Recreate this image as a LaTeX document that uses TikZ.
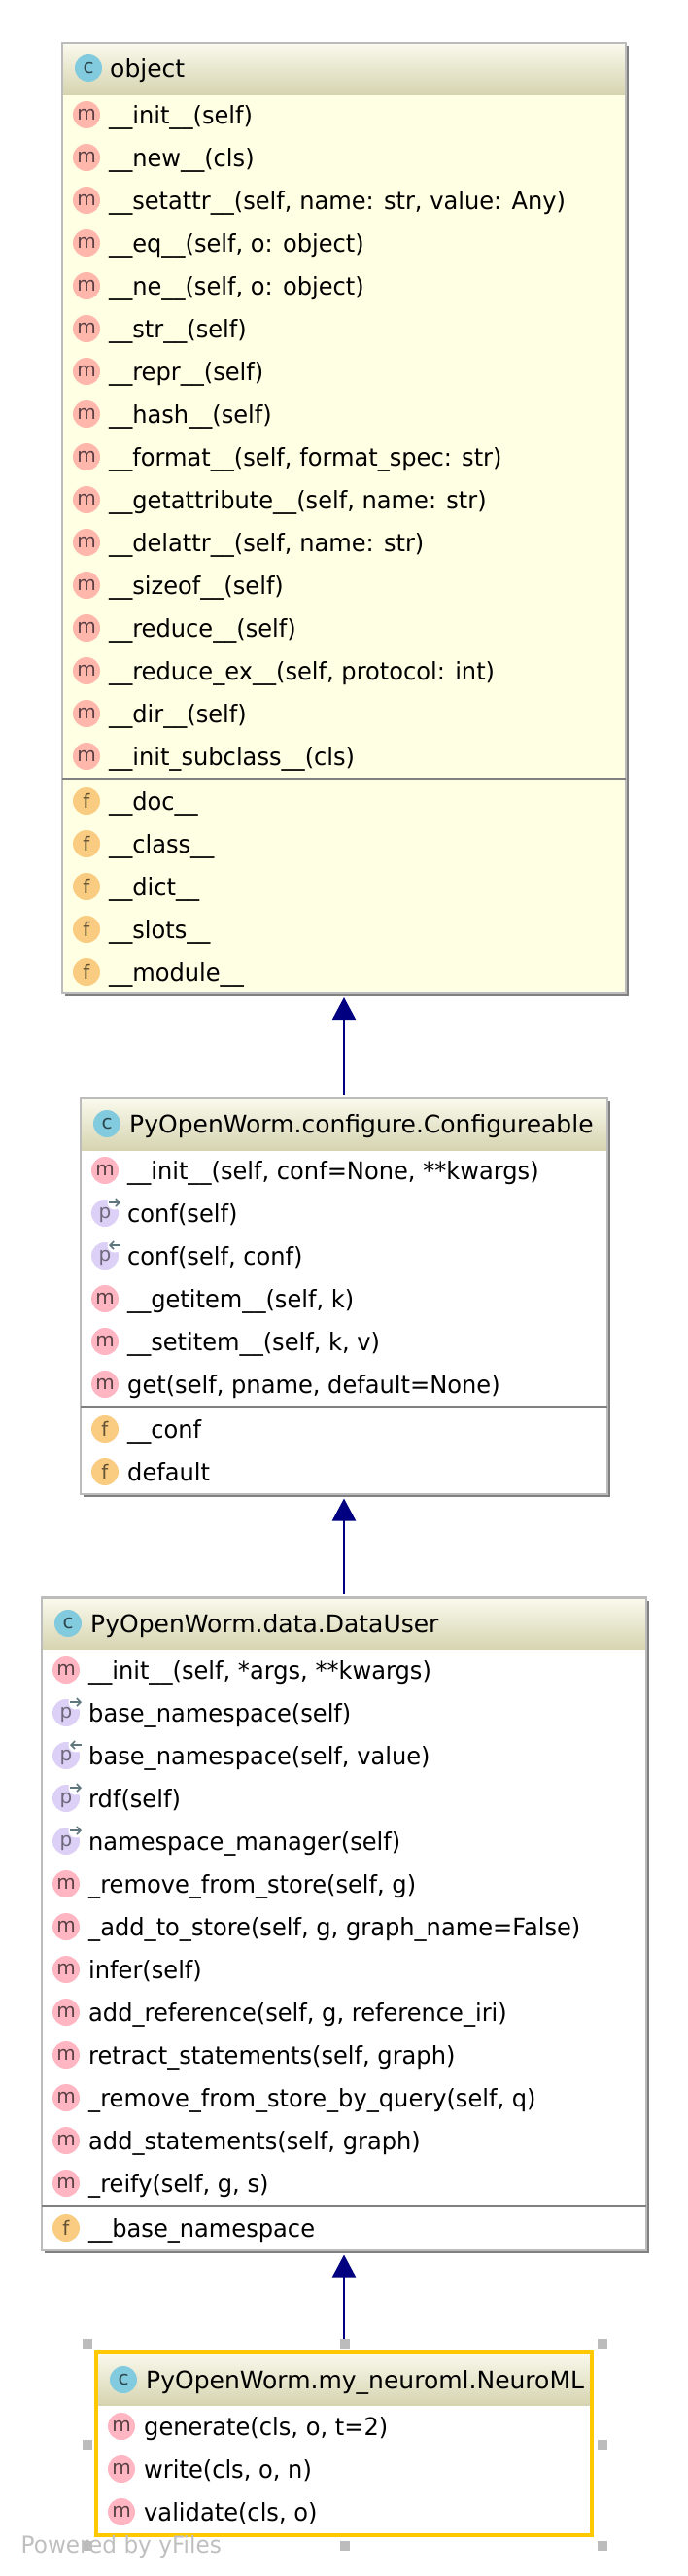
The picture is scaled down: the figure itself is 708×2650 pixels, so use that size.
\documentclass[tikz,border=0pt]{standalone}
\usepackage{fontspec}
\setmainfont{DejaVu Sans}
\newfontfamily\rowfont[FakeStretch=0.965]{DejaVu Sans}
\usetikzlibrary{arrows.meta,shadows}
\definecolor{framegray}{RGB}{188,188,188}
\definecolor{sepgray}{RGB}{128,128,128}
\definecolor{paleyellow}{RGB}{255,255,228}
\definecolor{headtop}{RGB}{250,250,238}
\definecolor{headbottom}{RGB}{214,212,176}
\definecolor{iconcblue}{RGB}{130,203,222}
\definecolor{iconmpink}{RGB}{255,182,194}
\definecolor{iconfgold}{RGB}{250,204,130}
\definecolor{iconpviolet}{RGB}{220,208,246}
\definecolor{navyarrow}{RGB}{0,0,128}
\definecolor{selyellow}{RGB}{255,200,0}
\tikzset{
  plainbox/.style={rectangle,fill=white,outer sep=0pt,inner sep=0pt},
  classbox/.style={plainbox,
    general shadow={fill=sepgray,shadow xshift=3pt,shadow yshift=-3pt}},
  headbar/.style={rectangle,anchor=north,outer sep=0pt,inner sep=0pt,minimum height=53pt,
    top color=headtop,bottom color=headbottom},
  inherit/.style={draw=navyarrow,line width=2pt,-{Triangle[length=23pt,width=24pt]},
    shorten <=4pt,shorten >=4.5pt},
  icon/.style={circle,minimum size=28pt,inner sep=0pt,text height=11pt,text depth=0pt,
    font=\fontsize{20}{24}\selectfont},
  iconc/.style={icon,fill=iconcblue,text=black!65!iconcblue},
  iconm/.style={icon,fill=iconmpink,text=black!65!iconmpink},
  iconf/.style={icon,fill=iconfgold,text=black!60!iconfgold,text height=15pt},
  iconp/.style={icon,fill=iconpviolet,text=black!50!iconpviolet},
  titletext/.style={anchor=base west,inner sep=0pt,font=\fontsize{25}{30}\selectfont},
  rowtext/.style={anchor=base west,inner sep=0pt,font=\rowfont\fontsize{25}{30}\selectfont},
  selhandle/.style={rectangle,fill=framegray,minimum size=10pt,inner sep=0pt},
  accessor/.style={draw=black!45!iconcblue!60!gray,line width=1.6pt,-{Straight Barb[length=4pt,width=8pt]}}
}
% one member line of a class box: name, left edge, y, kind, text
\newcommand{\memberrow}[5]{
  \node[icon#4] (#1i) at ({#2+25},#3) {#4};
  \node[rowtext] (#1t) at ({#2+48},{#3+9}) {#5};
}
% box with header: name, centre x, width, top, height, fill
\newcommand{\classframe}[6]{
  \node[classbox,minimum width=#3pt,minimum height=#5pt,fill=#6] (#1) at (#2,{#4+#5/2}) {};
  \node[headbar,minimum width=#3pt] (#1head) at (#1.north) {};
  \draw[framegray,line width=2.4pt] (#1.north west) rectangle (#1.south east);
}
\begin{document}
\begin{tikzpicture}[x=1pt,y=-1pt]
  \useasboundingbox (0,0) rectangle (708,2650);

  % object
  \classframe{object}{354}{580}{44}{977.5}{paleyellow}
  \node[iconc] (objectc) at (91,70) {c};
  \node[titletext] (objectname) at (113,79) {object};
  \begin{scope}[iconm/.append style={fill=iconmpink!85!orange!90!paleyellow}]
  \foreach \i/\txt in {0/{\_\_init\_\_(self)},1/{\_\_new\_\_(cls)},
      2/{\_\_setattr\_\_(self, name: str, value: Any)},3/{\_\_eq\_\_(self, o: object)},
      4/{\_\_ne\_\_(self, o: object)},5/{\_\_str\_\_(self)},6/{\_\_repr\_\_(self)},
      7/{\_\_hash\_\_(self)},8/{\_\_format\_\_(self, format\_spec: str)},
      9/{\_\_getattribute\_\_(self, name: str)},10/{\_\_delattr\_\_(self, name: str)},
      11/{\_\_sizeof\_\_(self)},12/{\_\_reduce\_\_(self)},
      13/{\_\_reduce\_ex\_\_(self, protocol: int)},14/{\_\_dir\_\_(self)},
      15/{\_\_init\_subclass\_\_(cls)}} {
    \pgfmathsetmacro\rowy{118+44*\i}
    \memberrow{objm\i}{64}{\rowy}{m}{\txt}
  }
  \end{scope}
  \coordinate (objectsep) at (64,801);
  \draw[sepgray,line width=2pt] (objectsep) -- (objectsep -| object.east);
  \foreach \i/\txt in {0/{\_\_doc\_\_},1/{\_\_class\_\_},2/{\_\_dict\_\_},
      3/{\_\_slots\_\_},4/{\_\_module\_\_}} {
    \pgfmathsetmacro\rowy{824+44*\i}
    \memberrow{objf\i}{64}{\rowy}{f}{\txt}
  }

  % Configureable
  \classframe{config}{354}{542}{1130}{407}{white}
  \node[iconc] (configc) at (110,1156) {c};
  \node[titletext] (configname) at (133,1165) {PyOpenWorm.configure.Configureable};
  \memberrow{confm0}{83}{1204}{m}{\_\_init\_\_(self, conf=None, **kwargs)}
  \memberrow{confp1}{83}{1248}{p}{conf(self)}
  \memberrow{confp2}{83}{1292}{p}{conf(self, conf)}
  \memberrow{confm3}{83}{1336}{m}{\_\_getitem\_\_(self, k)}
  \memberrow{confm4}{83}{1380}{m}{\_\_setitem\_\_(self, k, v)}
  \memberrow{confm5}{83}{1424}{m}{get(self, pname, default=None)}
  \coordinate (configsep) at (83,1447);
  \draw[sepgray,line width=2pt] (configsep) -- (configsep -| config.east);
  \memberrow{conff0}{83}{1470}{f}{\_\_conf}
  \memberrow{conff1}{83}{1514}{f}{default}

  % DataUser
  \classframe{datauser}{354}{622}{1643.5}{671.5}{white}
  \node[iconc] (datauserc) at (70,1670) {c};
  \node[titletext] (datausername) at (93,1679) {PyOpenWorm.data.DataUser};
  \foreach \i/\k/\txt in {0/m/{\_\_init\_\_(self, *args, **kwargs)},
      1/p/{base\_namespace(self)},2/p/{base\_namespace(self, value)},3/p/{rdf(self)},
      4/p/{namespace\_manager(self)},5/m/{\_remove\_from\_store(self, g)},
      6/m/{\_add\_to\_store(self, g, graph\_name=False)},7/m/{infer(self)},
      8/m/{add\_reference(self, g, reference\_iri)},9/m/{retract\_statements(self, graph)},
      10/m/{\_remove\_from\_store\_by\_query(self, q)},11/m/{add\_statements(self, graph)},
      12/m/{\_reify(self, g, s)}} {
    \pgfmathsetmacro\rowy{1718+44*\i}
    \memberrow{datam\i}{43}{\rowy}{\k}{\txt}
  }
  \coordinate (datausersep) at (43,2269);
  \draw[sepgray,line width=2pt] (datausersep) -- (datausersep -| datauser.east);
  \memberrow{dataf0}{43}{2292}{f}{\_\_base\_namespace}

  % read and write marks on the property icons
  \foreach \n/\tipdir in {confp1/1,confp2/-1,datam1/1,datam2/-1,datam3/1,datam4/1} {
    \fill[white] ([shift={(10,-11)}]\n i.center) circle (7.5);
    \coordinate (\n a) at ([shift={({10-6*\tipdir},-11)}]\n i.center);
    \coordinate (\n b) at ([shift={({10+6*\tipdir},-11)}]\n i.center);
    \draw[accessor] (\n a) -- (\n b);
  }

  % NeuroML
  \node[plainbox,minimum width=510pt,minimum height=188pt] (neuroml) at (354,2514) {};
  \node[headbar,minimum width=510pt,minimum height=54pt] (neuromlhead) at (neuroml.north) {};
  \draw[selyellow,line width=4pt] (neuroml.north west) rectangle (neuroml.south east);
  \node[iconc] (neuromlc) at (127,2448) {c};
  \node[titletext] (neuromlname) at (150,2457) {PyOpenWorm.my\_neuroml.NeuroML};
  \memberrow{neurom0}{100}{2496}{m}{generate(cls, o, t=2)}
  \memberrow{neurom1}{100}{2540}{m}{write(cls, o, n)}
  \memberrow{neurom2}{100}{2584}{m}{validate(cls, o)}

  \draw[inherit] (config.north) -- (object.south);
  \draw[inherit] (datauser.north) -- (config.south);
  \draw[inherit] (neuroml.north) -- (datauser.south);

  % selection handles
  \foreach \hx/\hy [count=\h] in {90/2411,355/2411,620/2411,90/2515,620/2515,90/2619,355/2619,620/2619}
    \node[selhandle] (handle\h) at (\hx,\hy) {};

  \node[rowtext,text=black!25,font=\rowfont\fontsize{24}{30}\selectfont] (poweredby) at (21.5,2626) {Powered by yFiles};
\end{tikzpicture}
\end{document}
